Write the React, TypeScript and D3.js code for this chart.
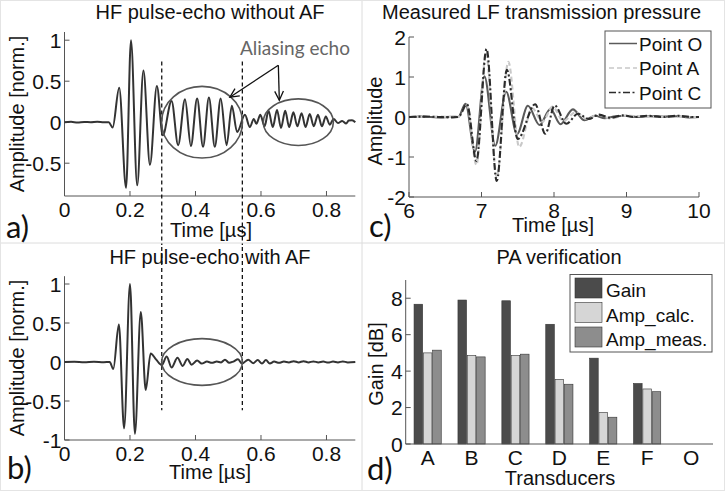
import React from 'react';
import * as d3 from 'd3';

const W = 725;
const H = 491;
const FONT = '"Liberation Sans", Arial, sans-serif';
const FONT2 = 'Lato, "Open Sans", sans-serif';

// ---------- panel a / b : HF pulse-echo ----------
const hfTimeTicks = [0, 0.2, 0.4, 0.6, 0.8];
const hfAmpTicksA = [-0.5, 0, 0.5, 1];
const hfAmpTicksB = [-1, -0.5, 0, 0.5, 1];
const gateLines = [0.297, 0.543];

const echoNoAF: [number, number][] = [
  [0, 0], [0.02, 0.004], [0.04, -0.003], [0.06, 0.003], [0.08, 0], [0.1, 0.004], [0.12, -0.002], [0.135, 0],
  [0.147, -0.065], [0.167, 0.42], [0.188, -0.8], [0.203, 1.0], [0.222, -0.77], [0.241, 0.63], [0.261, -0.52],
  [0.282, 0.44], [0.3, -0.16], [0.327, 0.26], [0.347, -0.28], [0.368, 0.28], [0.386, -0.29], [0.405, 0.29],
  [0.423, -0.3], [0.441, 0.3], [0.459, -0.3], [0.477, 0.29], [0.495, -0.28], [0.511, 0.2], [0.527, -0.12],
  [0.551, 0.09], [0.566, -0.06], [0.578, 0.04], [0.586, -0.02], [0.598, 0.09], [0.611, -0.05], [0.623, 0.14],
  [0.636, -0.06], [0.649, 0.15], [0.661, -0.07], [0.674, 0.14], [0.686, -0.06], [0.699, 0.12], [0.711, -0.05],
  [0.724, 0.11], [0.736, -0.06], [0.749, 0.1], [0.761, -0.05], [0.774, 0.09], [0.786, -0.05], [0.798, 0.07],
  [0.81, -0.03], [0.822, 0.04], [0.835, -0.01], [0.848, 0.015], [0.86, -0.015], [0.868, 0.02],
  [0.878, 0.025], [0.888, 0],
];

const echoWithAF: [number, number][] = [
  [0, 0], [0.03, 0.004], [0.06, -0.003], [0.09, 0.003], [0.12, -0.002], [0.138, 0], [0.149, -0.09],
  [0.166, 0.48], [0.182, -0.85], [0.2, 1.0], [0.215, -0.92], [0.233, 0.64], [0.248, -0.36], [0.263, 0.11],
  [0.28, 0.03], [0.297, -0.04], [0.312, 0.07], [0.327, -0.07], [0.345, 0.055], [0.361, -0.05], [0.375, 0.04],
  [0.388, -0.035], [0.405, 0.02], [0.419, -0.02], [0.435, 0.005], [0.45, -0.01], [0.465, 0.005], [0.478, -0.005],
  [0.49, 0.03], [0.503, -0.01], [0.515, 0.005], [0.53, 0.035], [0.542, -0.02], [0.561, 0.03], [0.576, -0.015],
  [0.59, 0.025], [0.603, -0.02], [0.615, 0.025], [0.627, -0.02], [0.64, 0.005], [0.655, -0.01], [0.67, 0.005],
  [0.685, -0.005], [0.7, 0.01], [0.715, -0.005], [0.73, 0.01], [0.745, -0.005], [0.76, 0.008], [0.775, -0.005],
  [0.79, 0.005], [0.805, -0.008], [0.82, 0.005], [0.835, -0.005], [0.85, 0.008], [0.865, -0.005], [0.888, 0],
];

const ellipsesA = [
  { t: 0.42, a: 0, rt: 0.1235, ra: 0.437 },
  { t: 0.714, a: 0, rt: 0.107, ra: 0.284 },
];
const ellipsesB = [{ t: 0.42, a: 0, rt: 0.1235, ra: 0.3 }];
const arrowStart: [number, number] = [0.653, 0.695];
const arrowEnds: [number, number][] = [[0.505, 0.305], [0.656, 0.268]];

// ---------- panel c : LF transmission ----------
const lfTimeTicks = [6, 7, 8, 9, 10];
const lfAmpTicks = [-2, -1, 0, 1, 2];
const pointO: [number, number][] = [
  [6, 0], [6.2, 0.01], [6.4, -0.01], [6.6, 0.005], [6.68, 0], [6.78, 0.33], [6.91, -0.87], [7.04, 1.02],
  [7.19, -0.72], [7.34, 0.63], [7.49, -0.43], [7.64, 0.28], [7.8, -0.2], [7.95, 0.2], [8.09, -0.18],
  [8.26, 0.19], [8.42, -0.08], [8.57, 0.03], [8.7, -0.03], [8.85, 0.02], [9.0, 0.03], [9.15, 0],
  [9.3, 0.02], [9.5, 0.01], [9.7, 0.02], [9.85, -0.01], [10, 0],
];
const pointA: [number, number][] = [
  [6, 0], [6.2, 0], [6.4, 0.01], [6.6, 0], [6.68, 0], [6.8, 0.3], [6.93, -1.2], [7.06, 1.62], [7.21, -1.5],
  [7.37, 1.38], [7.52, -0.75], [7.7, 0.22], [7.84, -0.12], [7.98, 0.26], [8.13, -0.1], [8.3, 0.12],
  [8.45, -0.05], [8.6, 0.06], [8.78, -0.04], [8.95, 0.03], [9.2, 0.02], [9.4, 0], [9.6, 0.02], [9.8, 0], [10, 0],
];
const pointC: [number, number][] = [
  [6, 0], [6.2, 0.01], [6.4, 0], [6.6, -0.01], [6.68, 0], [6.8, 0.32], [6.93, -1.1], [7.07, 1.7],
  [7.21, -1.6], [7.35, 1.18], [7.5, -0.55], [7.74, 0.32], [7.88, -0.42], [8.01, 0.29], [8.17, -0.17],
  [8.33, 0.08], [8.48, -0.05], [8.62, 0.06], [8.78, -0.02], [8.95, 0.04], [9.1, 0], [9.3, 0.03], [9.5, 0],
  [9.7, 0.03], [9.9, 0], [10, 0],
];
const lfSeriesNames = ['Point O', 'Point A', 'Point C'];

// ---------- panel d : PA verification ----------
const transducers = ['A', 'B', 'C', 'D', 'E', 'F', 'O'];
const gain = [7.67, 7.9, 7.86, 6.57, 4.71, 3.32, 0];
const ampCalc = [5.0, 4.86, 4.86, 3.55, 1.73, 3.02, 0];
const ampMeas = [5.15, 4.78, 4.93, 3.28, 1.47, 2.87, 0];
const barNames = ['Gain', 'Amp_calc.', 'Amp_meas.'];
const gainTicks = [0, 2, 4, 6, 8];

const AXIS = '#555';
const fmt = (v: number) => String(v);

function LeftAxis({ y, ticks, x0, y0, y1, size = 21 }: any) {
  return (
    <g>
      <line x1={x0} x2={x0} y1={y0} y2={y1} stroke={AXIS} strokeWidth={1} />
      {ticks.map((t: number) => (
        <g key={t}>
          <line x1={x0} x2={x0 + 5} y1={y(t)} y2={y(t)} stroke={AXIS} />
          <text x={x0 - 3} y={y(t)} dy="0.36em" textAnchor="end" fontFamily={FONT} fontSize={size} fill="#111">
            {fmt(t)}
          </text>
        </g>
      ))}
    </g>
  );
}

function BottomAxis({ x, ticks, y0, x0, x1, size = 21, tickMarks = true }: any) {
  return (
    <g>
      <line x1={x0} x2={x1} y1={y0} y2={y0} stroke={AXIS} strokeWidth={1} />
      {ticks.map((t: any) => (
        <g key={t}>
          {tickMarks && <line x1={x(t)} x2={x(t)} y1={y0} y2={y0 - 5} stroke={AXIS} />}
          <text x={x(t)} y={y0 + 20.5} textAnchor="middle" fontFamily={FONT} fontSize={size} fill="#111">
            {fmt(t)}
          </text>
        </g>
      ))}
    </g>
  );
}

function arrowHead(x1: number, y1: number, x2: number, y2: number) {
  const ang = Math.atan2(y2 - y1, x2 - x1);
  const L = 10;
  const s = 0.45;
  const p1 = [x2 - L * Math.cos(ang - s), y2 - L * Math.sin(ang - s)];
  const p2 = [x2 - L * Math.cos(ang + s), y2 - L * Math.sin(ang + s)];
  return `M${p1[0]},${p1[1]}L${x2},${y2}L${p2[0]},${p2[1]}`;
}

export default function App() {
  const xA = d3.scaleLinear().domain([0, 0.888]).range([64.5, 355.3]);
  const yA = d3.scaleLinear().domain([-0.9, 1.1]).range([196, 32]);
  const yB = d3.scaleLinear().domain([-1, 1.1]).range([440, 276.2]);
  const xC = d3.scaleLinear().domain([6, 10]).range([409, 699]);
  const yC = d3.scaleLinear().domain([-2, 2]).range([197, 37]);
  const xD = d3.scaleBand().domain(transducers).range([405.7, 713]);
  const xS = d3.scaleBand().domain(barNames).range([-13.6, 13.6]).paddingInner(0.08);
  const yD = d3.scaleLinear().domain([0, 9]).range([444, 280]);

  const lineA = d3.line<[number, number]>().x((d) => xA(d[0])).y((d) => yA(d[1])).curve(d3.curveMonotoneX);
  const lineB = d3.line<[number, number]>().x((d) => xA(d[0])).y((d) => yB(d[1])).curve(d3.curveMonotoneX);
  const lineC = d3.line<[number, number]>().x((d) => xC(d[0])).y((d) => yC(d[1])).curve(d3.curveMonotoneX);

  const barSeries = [gain, ampCalc, ampMeas];
  const barColors = ['#4b4b4b', '#d6d6d6', '#8d8d8d'];
  const lfSeries = [pointO, pointA, pointC];
  const lfStyles = [
    { stroke: '#5a5a5a', dash: undefined as any, w: 2.1 },
    { stroke: '#c8c8c8', dash: '5,3', w: 2.1 },
    { stroke: '#2b2b2b', dash: '7,2.5,2,2.5', w: 2.1 },
  ];

  const txt = { fontFamily: FONT, fill: '#111' };

  return (
    <svg width={W} height={H} style={{ position: 'absolute', left: 0, top: 0, background: '#fff' }}>
      <rect x={0} y={0} width={W} height={H} fill="#fff" />
      <line x1={362} x2={362} y1={0} y2={H} stroke="#dcdcdc" />
      <line x1={0} x2={W} y1={243} y2={243} stroke="#dcdcdc" />
      <rect x={0.5} y={0.5} width={W - 1} height={H - 1} fill="none" stroke="#e4e4e4" />

      {/* ---------- panel a ---------- */}
      <g>
        <text x={210} y={18.5} textAnchor="middle" fontSize={20} {...txt}>HF pulse-echo without AF</text>
        <LeftAxis y={yA} ticks={hfAmpTicksA} x0={64.5} y0={32} y1={196} />
        <BottomAxis x={xA} ticks={hfTimeTicks} y0={196} x0={64.5} x1={355.3} />
        <text x={211} y={237} textAnchor="middle" fontSize={20} {...txt}>Time [µs]</text>
        <text transform={`translate(24,114) rotate(-90)`} textAnchor="middle" fontSize={20} {...txt}>Amplitude [norm.]</text>
        {gateLines.map((g) => (
          <line key={g} x1={xA(g)} x2={xA(g)} y1={yA(0.74)} y2={245} stroke="#000" strokeWidth={1.2} strokeDasharray="4,3" />
        ))}
        <path d={lineA(echoNoAF) || ''} fill="none" stroke="#333" strokeWidth={2} />
        {ellipsesA.map((e, i) => (
          <ellipse key={i} cx={xA(e.t)} cy={yA(e.a)} rx={xA(e.t + e.rt) - xA(e.t)} ry={yA(e.a) - yA(e.a + e.ra)}
            fill="none" stroke="#555" strokeWidth={1.6} />
        ))}
        {arrowEnds.map((e, i) => {
          const x1 = xA(arrowStart[0]), y1 = yA(arrowStart[1]), x2 = xA(e[0]), y2 = yA(e[1]);
          return (
            <g key={i}>
              <line x1={x1} y1={y1} x2={x2} y2={y2} stroke="#111" strokeWidth={1.3} />
              <path d={arrowHead(x1, y1, x2, y2)} fill="none" stroke="#111" strokeWidth={1.3} />
            </g>
          );
        })}
        <text x={240} y={55} fontFamily={FONT2} fontSize={19} fill="#666">Aliasing echo</text>
        <text x={6} y={238} fontFamily={FONT2} fontSize={31} fill="#111">a)</text>
      </g>

      {/* ---------- panel b ---------- */}
      <g>
        {gateLines.map((g) => (
          <line key={g} x1={xA(g)} x2={xA(g)} y1={247} y2={yB(-0.62)} stroke="#000" strokeWidth={1.2} strokeDasharray="4,3" />
        ))}
        <text x={210} y={263.5} textAnchor="middle" fontSize={20} {...txt}>HF pulse-echo with AF</text>
        <LeftAxis y={yB} ticks={hfAmpTicksB} x0={64.5} y0={276.2} y1={440} />
        <BottomAxis x={xA} ticks={hfTimeTicks} y0={440} x0={64.5} x1={355.3} />
        <text x={210} y={479} textAnchor="middle" fontSize={20} {...txt}>Time [µs]</text>
        <text transform={`translate(24,358) rotate(-90)`} textAnchor="middle" fontSize={20} {...txt}>Amplitude [norm.]</text>
        <path d={lineB(echoWithAF) || ''} fill="none" stroke="#333" strokeWidth={2} />
        {ellipsesB.map((e, i) => (
          <ellipse key={i} cx={xA(e.t)} cy={yB(e.a)} rx={xA(e.t + e.rt) - xA(e.t)} ry={yB(e.a) - yB(e.a + e.ra)}
            fill="none" stroke="#555" strokeWidth={1.6} />
        ))}
        <text x={7} y={479} fontFamily={FONT2} fontSize={31} fill="#111">b)</text>
      </g>

      {/* ---------- panel c ---------- */}
      <g>
        <text x={541.5} y={18.5} textAnchor="middle" fontSize={20} {...txt}>Measured LF transmission pressure</text>
        <LeftAxis y={yC} ticks={lfAmpTicks} x0={409} y0={37} y1={197} />
        <BottomAxis x={xC} ticks={lfTimeTicks} y0={197} x0={409} x1={699} />
        <text x={553} y={232} textAnchor="middle" fontSize={20} {...txt}>Time [µs]</text>
        <text transform={`translate(382,121) rotate(-90)`} textAnchor="middle" fontSize={20} {...txt}>Amplitude</text>
        {lfSeries.map((s, i) => (
          <path key={i} d={lineC(s) || ''} fill="none" stroke={lfStyles[i].stroke} strokeWidth={lfStyles[i].w}
            strokeDasharray={lfStyles[i].dash} />
        ))}
        <rect x={605} y={31} width={106} height={77} fill="#fff" stroke="#555" />
        {lfSeriesNames.map((n, i) => {
          const by = 50.5 + i * 24.5;
          return (
            <g key={n}>
              <line x1={609} x2={637} y1={by - 7} y2={by - 7} stroke={lfStyles[i].stroke} strokeWidth={1.5}
                strokeDasharray={lfStyles[i].dash} />
              <text x={639} y={by} fontSize={19} {...txt}>{n}</text>
            </g>
          );
        })}
        <text x={369} y={237} fontFamily={FONT2} fontSize={31} fill="#111">c)</text>
      </g>

      {/* ---------- panel d ---------- */}
      <g>
        <text x={559} y={263.5} textAnchor="middle" fontSize={20} {...txt}>PA verification</text>
        {transducers.map((c, ci) => (
          <g key={c}>
            {barSeries.map((s, si) => {
              const bx = (xD(c) || 0) + xD.bandwidth() / 2 + (xS(barNames[si]) || 0);
              return s[ci] > 0 ? (
                <rect key={si} x={bx} y={yD(s[ci])} width={xS.bandwidth()} height={yD(0) - yD(s[ci])}
                  fill={barColors[si]} stroke="#333" strokeWidth={0.6} />
              ) : null;
            })}
          </g>
        ))}
        <LeftAxis y={yD} ticks={gainTicks} x0={405.7} y0={280} y1={444} />
        <BottomAxis x={(c: string) => (xD(c) || 0) + xD.bandwidth() / 2} ticks={transducers} y0={444} x0={405.7} x1={713} tickMarks={false} />
        <text x={560} y={485} textAnchor="middle" fontSize={20} {...txt}>Transducers</text>
        <text transform={`translate(383,364) rotate(-90)`} textAnchor="middle" fontSize={20} {...txt}>Gain [dB]</text>
        <rect x={570} y={274.5} width={142} height={77.5} fill="#fff" stroke="#555" />
        {barNames.map((n, i) => {
          const by = 297 + i * 24.5;
          return (
            <g key={n}>
              <rect x={575} y={by - 19} width={27} height={20} fill={barColors[i]} stroke="#333" strokeWidth={0.6} />
              <text x={606} y={by} fontSize={19} {...txt}>{n}</text>
            </g>
          );
        })}
        <text x={367} y={480} fontFamily={FONT2} fontSize={31} fill="#111">d)</text>
      </g>
    </svg>
  );
}
